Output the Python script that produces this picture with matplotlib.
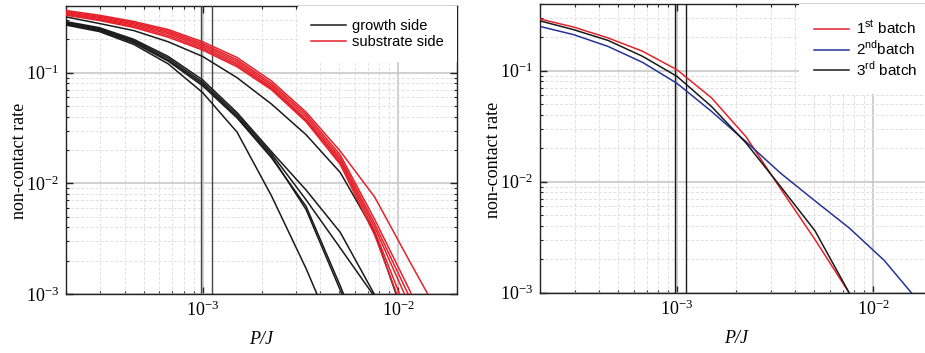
import numpy as np
import matplotlib
matplotlib.use("Agg")
import matplotlib.pyplot as plt
from matplotlib.ticker import LogLocator, NullFormatter

plt.rcParams['font.family'] = ['Liberation Serif', 'DejaVu Serif']

# P/J sample points (same grid for every curve)
p_j = [1.98e-4, 2.96e-4, 4.44e-4, 6.67e-4, 1.00e-3, 1.50e-3,
       2.25e-3, 3.38e-3, 5.06e-3, 7.59e-3, 1.14e-2, 1.71e-2]

# growth side runs
growth_1 = [0.320, 0.278, 0.240, 0.190, 0.140, 0.090, 0.052, 0.0275, 0.0125, 0.0036, 0.00045, 5e-5]
growth_2 = [0.290, 0.255, 0.200, 0.140, 0.086, 0.0435, 0.0193, 0.0087, 0.0036, 0.00098, 0.0002, 5e-5]
growth_3 = [0.285, 0.250, 0.195, 0.135, 0.082, 0.0417, 0.0185, 0.0071, 0.0026, 0.00094, 0.0002, 5e-5]
growth_4 = [0.280, 0.245, 0.190, 0.130, 0.079, 0.040, 0.0177, 0.0058, 0.00108, 0.0002, 5e-5, 1e-5]
growth_5 = [0.275, 0.240, 0.186, 0.127, 0.076, 0.039, 0.0170, 0.0062, 0.00118, 0.0002, 5e-5, 1e-5]
growth_6 = [0.270, 0.235, 0.180, 0.120, 0.066, 0.029, 0.0077, 0.0017, 0.00032, 5e-5, 1e-5, 1e-5]

# substrate side runs
substrate_1 = [0.365, 0.330, 0.290, 0.245, 0.190, 0.137, 0.084, 0.044, 0.0195, 0.0075, 0.0020, 0.00055]
substrate_2 = [0.357, 0.323, 0.283, 0.238, 0.183, 0.131, 0.080, 0.042, 0.0180, 0.0047, 0.00110, 0.0002]
substrate_3 = [0.350, 0.316, 0.276, 0.231, 0.177, 0.126, 0.077, 0.040, 0.0170, 0.0043, 0.00095, 0.0002]
substrate_4 = [0.343, 0.309, 0.269, 0.224, 0.171, 0.121, 0.074, 0.038, 0.0162, 0.0040, 0.0008, 0.0002]
substrate_5 = [0.337, 0.302, 0.262, 0.216, 0.165, 0.117, 0.072, 0.037, 0.0155, 0.0037, 0.0006, 0.0001]
substrate_6 = [0.331, 0.296, 0.256, 0.209, 0.160, 0.113, 0.070, 0.036, 0.0148, 0.0034, 0.0005, 0.0001]

# batch comparison
batch_1 = [0.294, 0.248, 0.198, 0.150, 0.102, 0.057, 0.0254, 0.0086, 0.0030, 0.00098, 0.0002, 5e-5]
batch_2 = [0.252, 0.212, 0.166, 0.119, 0.077, 0.0430, 0.0229, 0.0119, 0.0067, 0.0038, 0.00195, 0.00083]
batch_3 = [0.283, 0.235, 0.188, 0.135, 0.089, 0.0476, 0.0223, 0.0090, 0.0036, 0.00098, 0.0002, 5e-5]

# the two marker lines near P/J = 1e-3
markers = [0.98e-3, 1.11e-3]

growth = [growth_1, growth_2, growth_3, growth_4, growth_5, growth_6]
substrate = [substrate_1, substrate_2, substrate_3, substrate_4, substrate_5, substrate_6]

RED = '#e6212a'
BLUE = '#26349a'
BLACK = '#1a1a1a'


def style_axis(ax, ylab_y):
    ax.set_xscale('log')
    ax.set_yscale('log')
    ax.set_xlim(2e-4, 2e-2)
    ax.set_ylim(1e-3, 0.4)
    ax.xaxis.set_minor_locator(LogLocator(base=10, subs=np.arange(2, 10)))
    ax.yaxis.set_minor_locator(LogLocator(base=10, subs=np.arange(2, 10)))
    ax.xaxis.set_minor_formatter(NullFormatter())
    ax.yaxis.set_minor_formatter(NullFormatter())
    ax.grid(True, which='major', color='#c8c8c8', lw=1.2)
    ax.grid(True, which='minor', color='#e0e0e0', lw=0.7, ls=(0, (3, 2)))
    ax.set_axisbelow(True)
    ax.tick_params(which='both', direction='in', top=True, right=True,
                   labelsize=13, pad=5, color='#222222')
    ax.tick_params(which='major', length=5, width=1)
    ax.tick_params(which='minor', length=2.5, width=0.8)
    for s in ax.spines.values():
        s.set_linewidth(1.0)
        s.set_color('#222222')
    ax.set_xlabel('P/J', fontsize=13, style='italic', labelpad=8)
    ax.set_ylabel('non-contact rate', fontsize=13)
    ax.yaxis.set_label_coords(-0.097, ylab_y)


fig = plt.figure(figsize=(9.25, 3.53), dpi=100)

# left: growth side vs substrate side
ax1 = fig.add_axes([66 / 925, 59 / 353, 391 / 925, 288 / 353])
style_axis(ax1, 0.462)
for m in markers:
    ax1.axvline(m, color='#444444', lw=1.0, zorder=3)
for i, g in enumerate(growth):
    ax1.plot(p_j, g, color=BLACK, lw=1.1, label='growth side' if i == 0 else None, zorder=4)
for i, s in enumerate(substrate):
    ax1.plot(p_j, s, color=RED, lw=1.1, label='substrate side' if i == 0 else None, zorder=4)
leg1 = ax1.legend(loc='upper right', bbox_to_anchor=(1.0, 1.0), borderaxespad=0,
                  prop={'family': 'Liberation Sans', 'size': 10.5},
                  frameon=True, fancybox=False, framealpha=1, edgecolor='none',
                  handlelength=2.4, handletextpad=0.4, labelspacing=0.15, borderpad=0.9)
leg1.set_zorder(5)

# right: three batches
ax2 = fig.add_axes([540 / 925, 60.5 / 353, 392 / 925, 288.5 / 353])
style_axis(ax2, 0.459)
for m in markers:
    ax2.axvline(m, color=BLACK, lw=1.0, zorder=3)
ax2.plot(p_j, batch_1, color=RED, lw=1.1, label='1$^{\\mathdefault{st}}$ batch', zorder=4)
ax2.plot(p_j, batch_2, color=BLUE, lw=1.1, label='2$^{\\mathdefault{nd}}$batch', zorder=4)
ax2.plot(p_j, batch_3, color=BLACK, lw=1.1, label='3$^{\\mathdefault{rd}}$ batch', zorder=4)
leg2 = ax2.legend(loc='upper right', bbox_to_anchor=(1.0, 1.0), borderaxespad=0,
                  prop={'family': 'Liberation Sans', 'size': 11},
                  frameon=True, fancybox=False, framealpha=1, edgecolor='none',
                  handlelength=2.3, handletextpad=0.4, labelspacing=0.12, borderpad=1.0)
leg2.set_zorder(5)

fig.savefig('out.png', dpi=100)
